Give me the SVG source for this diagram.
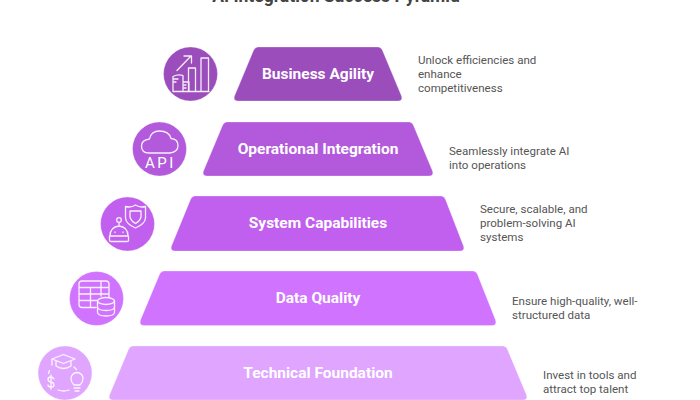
<svg xmlns="http://www.w3.org/2000/svg" width="700" height="400" viewBox="0 0 700 400">
<style>
.t{font-family:Roboto,"Liberation Sans",sans-serif;font-weight:700;font-size:15.500px;fill:#fff;text-anchor:middle}
.d{font-family:Roboto,"Liberation Sans",sans-serif;font-size:11.550px;fill:#555}
.i{fill:none;stroke:#fff;stroke-width:1.300;stroke-linecap:round;stroke-linejoin:round;opacity:.9}
.s{stroke:#fff;stroke-opacity:.35;stroke-width:.8}
.a{font-family:Roboto,"Liberation Sans",sans-serif;font-size:15px;fill:#fff;letter-spacing:2.500px;text-anchor:middle}
</style>
<rect width="700" height="400" fill="#fff"/>
<text id="title" x="336" y="1.500" font-family="Roboto,'Liberation Sans',sans-serif" font-weight="700" font-size="17.500px" fill="#444" text-anchor="middle">AI Integration Success Pyramid</text>
<g id="connectors"/>
<g id="business-agility">
<path class="s" fill="#9a4dbb" d="M258 47H378Q381 47 382.500 50.500L401.500 96Q403 101 398 101H238Q233 101 234.500 96L253.500 50.500Q255 47 258 47Z"/>
<text class="t" x="318" y="79">Business Agility</text>
<circle class="s" cx="190.500" cy="74" r="27" fill="#9a4dbb"/>
<path class="i" d="M177 70.500L191 56M184 56H191.500V63M173 91.500H209M173 91.500V76.500Q178 74 183 75.500V91.500M183 82H189V91.500M173 79H178M173 82H176M184 85H186M184 88H186M188.500 91.500V68H195.500V91.500M201 91.500V58H208.500V91.500"/>
<text class="d" x="418" y="64">Unlock efficiencies and</text>
<text class="d" x="418" y="78">enhance</text>
<text class="d" x="418" y="92">competitiveness</text>
</g>
<g id="operational-integration">
<path class="s" fill="#b259dc" d="M227 122H409Q412 122 413.500 125.500L432.500 171Q434 176 429 176H207Q202 176 203.500 171L222.500 125.500Q224 122 227 122Z"/>
<text class="t" x="318" y="153.800">Operational Integration</text>
<circle class="s" cx="159.500" cy="149" r="27" fill="#b259dc"/>
<path class="i" d="M149 153H170Q178 152 178 145.500Q178 139 171 138.500Q169 131 159.500 131Q151 131 149.500 139Q141.500 140 141.500 146Q141.500 153 149 153Z"/>
<text class="a" x="160.500" y="167.500">API</text>
<text class="d" x="449" y="155">Seamlessly integrate AI</text>
<text class="d" x="449" y="169">into operations</text>
</g>
<g id="system-capabilities">
<path class="s" fill="#c160ee" d="M195 196H441Q444 196 445.500 199.500L463.500 246Q465 251 460 251H175Q170 251 171.500 246L190.500 199.500Q192 196 195 196Z"/>
<text class="t" x="318" y="228.300">System Capabilities</text>
<circle class="s" cx="127.500" cy="224" r="27" fill="#c160ee"/>
<path class="i" d="M125.500 206.500Q131 208 135.500 205Q140 208 145.500 206.500V218Q145 224 135.500 228Q126 224 125.500 218ZM130 211H141V217Q140 221 135.500 223.500Q131 221 130 217ZM119 223V226M110 236Q110 227 119 226Q128 227 128 236ZM109.500 236H128.500V241Q128.500 241.500 127 241.500H111Q109.500 241.500 109.500 240ZM115 232V232.500M123 232V232.500"/>
<circle class="i" cx="119" cy="220" r="2.300"/>
<text class="d" x="480" y="213">Secure, scalable, and</text>
<text class="d" x="480" y="227">problem-solving AI</text>
<text class="d" x="480" y="241">systems</text>
</g>
<g id="data-quality">
<path class="s" fill="#d073ff" d="M164 271H473Q476 271 477.500 274.500L495.500 320Q497 325.500 492 325.500H144Q139 325.500 140.500 320L159.500 274.500Q161 271 164 271Z"/>
<text class="t" x="318" y="302.800">Data Quality</text>
<circle class="s" cx="96.500" cy="298.500" r="27" fill="#d073ff"/>
<path class="i" d="M96 307.500H82Q79 307.500 79 304.500V284Q79 281 82 281H106Q109 281 109 284V297M79 287.500H109M79 294H109M79 300.500H97M90.500 287.500V307.500M101 281V296"/>
<ellipse class="i" cx="106" cy="301" rx="8.500" ry="3.500"/>
<path class="i" d="M97.500 301V312.500Q98 316 106 316Q114 316 114.500 312.500V301M97.500 307Q98 310.500 106 310.500Q114 310.500 114.500 307"/>
<text class="d" x="512" y="305">Ensure high-quality, well-</text>
<text class="d" x="512" y="319">structured data</text>
</g>
<g id="technical-foundation">
<path class="s" fill="#e0a5ff" d="M133 346H503Q506 346 507.500 349.500L526.500 395Q528 400 523 400H113Q108 400 109.500 395L128.500 349.500Q130 346 133 346Z"/>
<text class="t" x="318" y="377.800">Technical Foundation</text>
<circle class="s" cx="65" cy="373" r="27" fill="#e0a5ff"/>
<path class="i" d="M52 359L63.500 354.500L75 359L63.500 363.500ZM56 361.500V366Q63.500 371 71 366V361.500M52 359V365M58 390Q64 392 69 390M49.500 370.500L48.500 373.500M74 367L76.500 369.500M54 379Q53 377 50.500 377Q48 377 48 379.500Q48 381.500 51 382Q54 382.500 54 385Q54 387 51 387Q48 387 48 385M51 375V389M74 388H80M75 391H79M74 385Q71 382 71 378.500A6 6 0 0 1 83 378.500Q83 382 80 385Z"/>
<text class="d" x="543" y="379">Invest in tools and</text>
<text class="d" x="543" y="393">attract top talent</text>
</g>
</svg>
